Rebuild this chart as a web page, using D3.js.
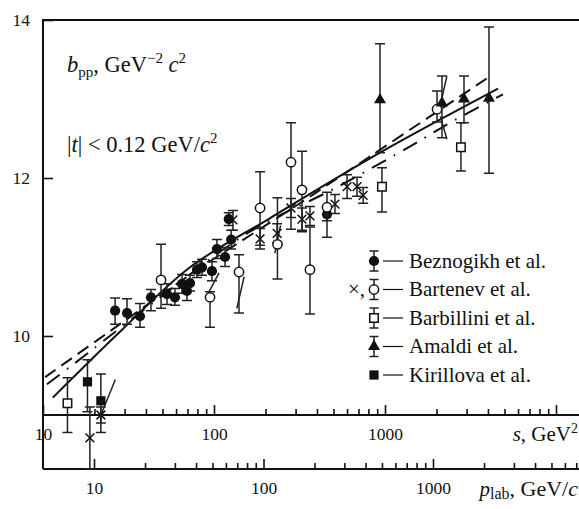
<!DOCTYPE html>
<html>
<head>
<meta charset="utf-8">
<script src="https://cdn.jsdelivr.net/npm/d3@7"></script>
<style>
  html, body { margin: 0; padding: 0; background: #fff; }
  #chart svg { display: block; color: #111; }
  #chart svg text { font-family: "Liberation Serif", "Times New Roman", serif; }
  .axis .domain { display: none; }
  .axis .tick line { stroke: #111; stroke-width: 1.6; }
  .axis .tick text { font-size: 17.5px; fill: #111; }
  .axis-line { stroke: #111; stroke-width: 2; fill: none; }
  .fit { fill: none; stroke: #111; stroke-width: 2; }
  .err { stroke: #222; stroke-width: 1.5; fill: none; }
  .label-text { fill: #111; font-size: 21px; }
  .note-text { fill: #111; font-size: 22.5px; }
</style>
</head>
<body>
<div id="chart"></div>
<script>
// s in GeV^2, b and error range in GeV^-2 c^2: [s, b, lo, hi]
const beznogikh = [
  [26.4, 10.32, 10.15, 10.48],
  [31.0, 10.29, 10.15, 10.47],
  [36.9, 10.25, 10.11, 10.41],
  [42.8, 10.49, 10.32, 10.59],
  [53.1, 10.53, 10.40, 10.66],
  [59.1, 10.49, 10.39, 10.60],
  [65.0, 10.66, 10.54, 10.78],
  [69.5, 10.57, 10.45, 10.69],
  [72.4, 10.67, 10.57, 10.77],
  [79.5, 10.84, 10.74, 10.94],
  [85.1, 10.87, 10.77, 10.97],
  [97.3, 10.82, 10.70, 10.94],
  [104, 11.10, 10.98, 11.22],
  [116, 11.0, 10.88, 11.12],
  [126, 11.22, 11.10, 11.34],
  [122, 11.48, 11.40, 11.56],
  [458, 11.54, 11.46, 11.62],
];
const bartenevCircles = [
  [49.0, 10.71, 10.35, 11.16],
  [94.8, 10.49, 10.11, 10.56],
  [140, 10.81, 10.29, 11.03],
  [186, 11.62, 11.15, 12.08],
  [235, 11.16, 10.72, 11.75],
  [282, 12.20, 11.35, 12.70],
  [327, 11.85, 11.32, 12.34],
  [364, 10.84, 10.28, 11.38],
  [458, 11.63, 11.25, 11.82],
  [2015, 12.87, 12.71, 13.10],
];
const bartenevCrosses = [
  [18.8, 8.71, 8.32, 9.10],
  [21.8, 9.0, 8.90, 9.10],
  [129, 11.47, 11.34, 11.59],
  [186, 11.23, 11.10, 11.36],
  [234, 11.30, 11.18, 11.42],
  [282, 11.62, 11.50, 11.74],
  [327, 11.48, 11.34, 11.62],
  [364, 11.52, 11.40, 11.64],
  [510, 11.67, 11.55, 11.79],
  [600, 11.89, 11.74, 12.04],
  [686, 11.89, 11.77, 12.01],
  [745, 11.78, 11.68, 11.88],
];
const barbillini = [
  [13.9, 9.15, 8.78, 9.47],
  [960, 11.89, 11.57, 12.13],
  [2780, 12.39, 12.09, 12.70],
];
const amaldi = [
  [935, 12.99, 12.32, 13.70],
  [2154, 12.95, 12.51, 13.29],
  [2897, 13.0, 12.70, 13.29],
  [4055, 13.01, 12.06, 13.91],
];
const kirillova = [
  [18.2, 9.42, 9.04, 9.70],
  [21.8, 9.18, 8.78, 9.52],
];

// fitted curves [s, b]
const fitSolid = [[11.4, 9.22], [29.0, 10.08], [72.4, 10.87], [212, 11.49], [935, 12.32], [4581, 13.13]];
const fitDashed = [[10.3, 9.48], [24.6, 10.06], [82.8, 10.86], [318, 11.68], [764, 12.23], [4000, 13.27]];
const fitDashDot = [[10.55, 9.39], [14.8, 9.63], [42.2, 10.39], [162, 11.32], [510, 11.87], [1479, 12.43], [2500, 12.72], [4898, 13.06]];

// short slanted strokes beside some points [s1, b1, s2, b2]
const slantMarks = [
  [92, 10.53, 107, 10.80],
  [136, 10.35, 150, 10.75],
  [227, 11.05, 245, 11.40],
  [21.8, 9.0, 26.5, 9.45],
  [2110, 12.93, 2300, 13.29],
  [2110, 12.78, 2300, 12.49],
];

const sMajorTicks = [10, 100, 1000, 10000];
const sLabelTicks = [10, 100, 1000];
const pMajorTicks = [10, 100, 1000];
const yTicks = [10, 12, 14];

const legendItems = [
  { label: "Beznogikh et al.", type: "dot", err: true },
  { label: "Bartenev et al.", type: "circle", err: true, prefix: "×," },
  { label: "Barbillini et al.", type: "square", err: true },
  { label: "Amaldi et al.", type: "triangle", err: true },
  { label: "Kirillova et al.", type: "fsquare", err: false },
];

const width = 579;
const height = 509;

const x = d3.scaleLog().domain([10, 10000]).range([43, 556]);
const p = d3.scaleLog().domain([10, 1000]).range([94, 433]);
const y = d3.scaleLinear().domain([10, 14]).range([336, 20]);

const sAxisY = y(9);
const pAxisY = 469;

const symbolStyle = {
  dot: { type: d3.symbolCircle, size: 82, fill: "#111", stroke: "none" },
  circle: { type: d3.symbolCircle, size: 68, fill: "#fff", stroke: "#111" },
  square: { type: d3.symbolSquare, size: 72, fill: "#fff", stroke: "#111" },
  triangle: { type: d3.symbolTriangle, size: 62, fill: "#111", stroke: "none" },
  fsquare: { type: d3.symbolSquare, size: 85, fill: "#111", stroke: "none" },
  times: { type: d3.symbolTimes, size: 52, fill: "none", stroke: "#111" },
};

const series = [
  { key: "bartenev-x", type: "times", values: bartenevCrosses },
  { key: "beznogikh", type: "dot", values: beznogikh },
  { key: "bartenev", type: "circle", values: bartenevCircles },
  { key: "barbillini", type: "square", values: barbillini },
  { key: "amaldi", type: "triangle", values: amaldi },
  { key: "kirillova", type: "fsquare", values: kirillova },
];

const svg = d3
  .select("#chart")
  .append("svg")
  .attr("width", width)
  .attr("height", height)
  .attr("viewBox", [0, 0, width, height]);

// frame lines
svg
  .append("path")
  .attr("class", "axis-line")
  .attr("d", `M${width},${y(14)}H${x(10)}V${pAxisY}`);
svg
  .selectAll(".h-axis-line")
  .data([sAxisY, pAxisY])
  .join("line")
  .attr("class", "axis-line h-axis-line")
  .attr("x1", x(10))
  .attr("x2", width)
  .attr("y1", (d) => d)
  .attr("y2", (d) => d);

// y axis
svg
  .append("g")
  .attr("class", "axis axis--y")
  .attr("transform", `translate(${x(10)},0)`)
  .call(d3.axisLeft(y).tickValues(yTicks).tickSize(-10).tickPadding(13).tickFormat(d3.format("d")));

// s axis
const sMinor = x
  .copy()
  .domain([10, x.invert(width)])
  .ticks()
  .filter((d) => !sMajorTicks.includes(d));
svg
  .append("g")
  .attr("class", "axis axis--s")
  .attr("transform", `translate(0,${sAxisY})`)
  .call(d3.axisBottom(x).tickValues(sMinor).tickSize(-6).tickFormat(""));
svg
  .append("g")
  .attr("class", "axis axis--s")
  .attr("transform", `translate(0,${sAxisY})`)
  .call(
    d3
      .axisBottom(x)
      .tickValues(sMajorTicks)
      .tickSize(-10)
      .tickPadding(13)
      .tickFormat((d) => (sLabelTicks.includes(d) ? d3.format("d")(d) : ""))
  );

// p_lab axis
const pMinor = p
  .copy()
  .domain([10, p.invert(width)])
  .ticks()
  .filter((d) => !pMajorTicks.includes(d));
svg
  .append("g")
  .attr("class", "axis axis--p")
  .attr("transform", `translate(0,${pAxisY})`)
  .call(d3.axisBottom(p).tickValues(pMinor).tickSize(-6).tickFormat(""));
svg
  .append("g")
  .attr("class", "axis axis--p")
  .attr("transform", `translate(0,${pAxisY})`)
  .call(d3.axisBottom(p).tickValues(pMajorTicks).tickSize(-10).tickPadding(13).tickFormat(d3.format("d")));

// fitted curves
const line = d3
  .line()
  .x((d) => x(d[0]))
  .y((d) => y(d[1]))
  .curve(d3.curveCatmullRom.alpha(0.5));

svg
  .selectAll(".fit")
  .data([
    { values: fitSolid, dash: null },
    { values: fitDashed, dash: "13,7" },
    { values: fitDashDot, dash: "16,9,1.6,9" },
  ])
  .join("path")
  .attr("class", "fit")
  .attr("stroke-dasharray", (d) => d.dash)
  .attr("d", (d) => line(d.values));

svg
  .selectAll(".slant")
  .data(slantMarks)
  .join("line")
  .attr("class", "err slant")
  .attr("x1", (d) => x(d[0]))
  .attr("y1", (d) => y(d[1]))
  .attr("x2", (d) => x(d[2]))
  .attr("y2", (d) => y(d[3]));

// error bars and markers
const errCap = 5;
const groups = svg
  .selectAll(".series")
  .data(series, (d) => d.key)
  .join("g")
  .attr("class", (d) => `series series--${d.key}`);

groups
  .selectAll(".err")
  .data((d) => d.values)
  .join("path")
  .attr("class", "err")
  .attr("d", (d) => {
    const cx = x(d[0]);
    const top = y(d[3]);
    const bot = y(d[2]);
    return `M${cx},${top}V${bot}M${cx - errCap},${top}H${cx + errCap}M${cx - errCap},${bot}H${cx + errCap}`;
  });

groups.each(function (s) {
  const st = symbolStyle[s.type];
  d3.select(this)
    .selectAll(".mark")
    .data(s.values)
    .join("path")
    .attr("class", "mark")
    .attr("transform", (d) => `translate(${x(d[0])},${y(d[1])})`)
    .attr("d", d3.symbol(st.type, st.size))
    .attr("fill", st.fill)
    .attr("stroke", st.stroke)
    .attr("stroke-width", 1.5);
});

// legend
const legend = svg.append("g").attr("class", "legend").attr("transform", "translate(374,261)");
const legendRow = legend
  .selectAll(".legend-row")
  .data(legendItems)
  .join("g")
  .attr("class", "legend-row")
  .attr("transform", (d, i) => `translate(0,${i * 28.5})`);

legendRow
  .filter((d) => d.err)
  .append("path")
  .attr("class", "err")
  .attr("d", `M0,-10V10M-4.5,-10H4.5M-4.5,10H4.5`);
legendRow
  .append("path")
  .attr("d", (d) => d3.symbol(symbolStyle[d.type].type, symbolStyle[d.type].size)())
  .attr("fill", (d) => symbolStyle[d.type].fill)
  .attr("stroke", (d) => symbolStyle[d.type].stroke)
  .attr("stroke-width", 1.5);
legendRow
  .append("line")
  .attr("x1", 9)
  .attr("x2", 29)
  .attr("stroke", "#111")
  .attr("stroke-width", 1.2);
legendRow
  .append("text")
  .attr("class", "label-text")
  .attr("x", 35)
  .attr("dy", "0.33em")
  .text((d) => d.label);
legendRow
  .filter((d) => d.prefix)
  .append("text")
  .attr("class", "label-text")
  .attr("x", -9)
  .attr("dy", "0.3em")
  .attr("text-anchor", "end")
  .text((d) => d.prefix);

// annotations
const t1 = svg.append("text").attr("class", "note-text").attr("x", 67).attr("y", 72);
t1.append("tspan").attr("font-style", "italic").text("b");
t1.append("tspan").attr("font-size", 15).attr("dy", 5).text("pp");
t1.append("tspan").attr("dy", -5).text(", GeV");
t1.append("tspan").attr("font-size", 15).attr("dy", -9).text("−2");
t1.append("tspan").attr("dy", 9).text(" ");
t1.append("tspan").attr("font-style", "italic").text("c");
t1.append("tspan").attr("font-size", 15).attr("dy", -9).text("2");

const t2 = svg.append("text").attr("class", "note-text").attr("x", 67).attr("y", 152);
t2.append("tspan").text("|");
t2.append("tspan").attr("font-style", "italic").text("t");
t2.append("tspan").text("| < 0.12 GeV/");
t2.append("tspan").attr("font-style", "italic").text("c");
t2.append("tspan").attr("font-size", 15).attr("dy", -9).text("2");

const t3 = svg.append("text").attr("class", "label-text").attr("x", 578).attr("y", 441).attr("text-anchor", "end");
t3.append("tspan").attr("font-style", "italic").text("s");
t3.append("tspan").text(", GeV");
t3.append("tspan").attr("font-size", 14).attr("dy", -8).text("2");

const t4 = svg.append("text").attr("class", "label-text").attr("x", 578).attr("y", 496).attr("text-anchor", "end");
t4.append("tspan").attr("font-style", "italic").text("p");
t4.append("tspan").attr("font-size", 16).attr("dy", 3).text("lab");
t4.append("tspan").attr("font-size", 22).attr("dy", -3).text(", GeV/");
t4.append("tspan").attr("font-size", 22).attr("font-style", "italic").text("c");
</script>
</body>
</html>
